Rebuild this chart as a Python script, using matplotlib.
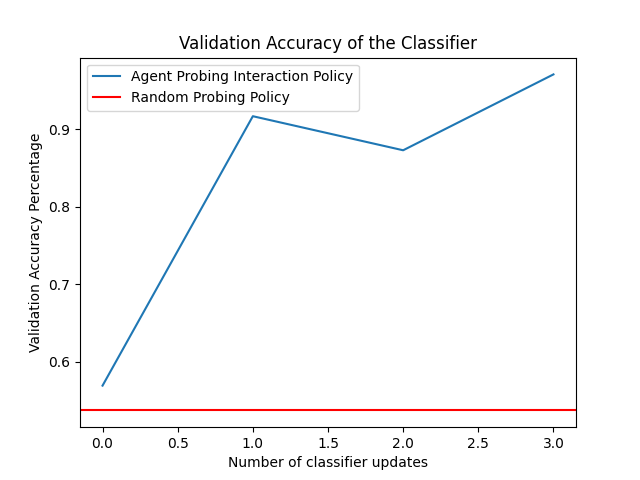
import matplotlib
matplotlib.use("Agg")
import matplotlib.pyplot as plt

updates = [0, 1, 2, 3]
agent_acc = [0.569, 0.917, 0.873, 0.971]
random_acc = 0.537

fig, ax = plt.subplots(figsize=(6.4, 4.8), dpi=100)
ax.plot(updates, agent_acc, label="Agent Probing Interaction Policy")
ax.axhline(random_acc, color="red", label="Random Probing Policy")
ax.set_title("Validation Accuracy of the Classifier")
ax.set_xlabel("Number of classifier updates")
ax.set_ylabel("Validation Accuracy Percentage")
ax.legend(loc="upper left")
fig.savefig("out.png")
